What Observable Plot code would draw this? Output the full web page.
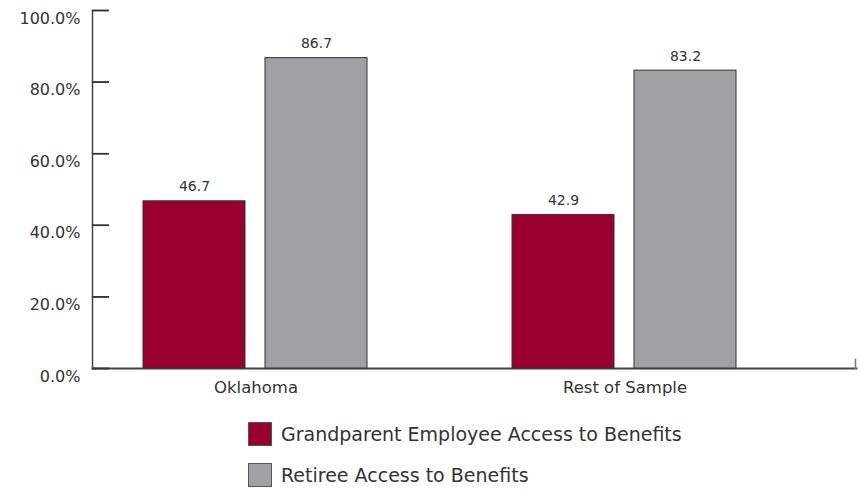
<!DOCTYPE html>
<html>
<head>
<meta charset="utf-8">
<script src="https://cdn.jsdelivr.net/npm/d3@7"></script>
<script src="https://cdn.jsdelivr.net/npm/@observablehq/plot@0.6"></script>
<style>
  html, body { margin: 0; padding: 0; background: #fff; }
  body { width: 860px; height: 489px; overflow: hidden; font-family: "DejaVu Sans", sans-serif; color: #333; }
  #chart svg { display: block; }
  .legend { margin-top: 8px; padding-left: 248px; }
  .legend .row { display: flex; align-items: center; height: 41px; }
  .legend .sw { width: 22px; height: 22px; border: 1px solid #555; margin-right: 9px; }
  .legend .lbl { font-size: 19px; color: #333; }
</style>
</head>
<body>
<div id="chart"></div>
<script>
const categories = ["Oklahoma", "Rest of Sample"];
const series = ["Grandparent Employee Access to Benefits", "Retiree Access to Benefits"];
const grandparentValues = [46.7, 42.9];
const retireeValues = [86.7, 83.2];
const yTicks = [0, 20, 40, 60, 80, 100];
const colors = ["#990030", "#a0a1a5"];

const data = [];
categories.forEach((c, i) => {
  data.push({category: c, series: series[0], value: grandparentValues[i]});
  data.push({category: c, series: series[1], value: retireeValues[i]});
});
// y-axis tick marks live in the first (leftmost) facet only
const tickData = yTicks.map(t => ({category: categories[0], value: t}));

const plot = Plot.plot({
  width: 860,
  height: 405,
  marginTop: 10,
  marginBottom: 37,
  marginLeft: 92,
  marginRight: 2,
  style: {fontFamily: "DejaVu Sans, sans-serif", color: "#333", background: "#fff"},
  fx: {domain: categories, paddingInner: 0.1135, paddingOuter: 0.0919, align: 0, label: null},
  x: {domain: series, paddingInner: 0.1626, paddingOuter: 0.4146, axis: null},
  y: {domain: [0, 100], axis: null},
  color: {domain: series, range: colors},
  marks: [
    Plot.frame({facet: "super", anchor: "left", stroke: "#444", strokeWidth: 1.5}),
    Plot.frame({facet: "super", anchor: "bottom", insetRight: -68, stroke: "#444", strokeWidth: 1.8}),
    Plot.frame({facet: "super", anchor: "right", insetRight: -67, insetTop: 349, stroke: "#777", strokeWidth: 1.5}),
    Plot.barY(data, {fx: "category", x: "series", y: "value", fill: "series", stroke: "#333", strokeWidth: 1}),
    Plot.text(data, {fx: "category", x: "series", y: "value", text: d => d.value.toFixed(1), lineAnchor: "bottom", dy: -10, fontSize: 14, fill: "#333"}),
    Plot.axisFx({anchor: "bottom", tickSize: 0, tickPadding: 13, fontSize: 16.5, label: null, fill: "#333"}),
    Plot.axisY({anchor: "left", ticks: yTicks, tickSize: 0, tickPadding: 12, dy: 8, tickFormat: d => d.toFixed(1) + "%", facetAnchor: "left", fontSize: 16, label: null, fill: "#333"}),
    Plot.ruleY(tickData, {fx: "category", y: "value", insetRight: 310, stroke: "#333", strokeWidth: 1.5}),
    Plot.tickY(tickData, {fx: "category", y: "value", insetRight: 310, stroke: "#333", strokeWidth: 1.5})
  ]
});
document.getElementById("chart").appendChild(plot);

const legend = d3.select("body").append("div").attr("class", "legend");
series.forEach((s, i) => {
  const row = legend.append("div").attr("class", "row");
  row.append("div").attr("class", "sw").style("background", colors[i]);
  row.append("div").attr("class", "lbl").text(s);
});
</script>
</body>
</html>
